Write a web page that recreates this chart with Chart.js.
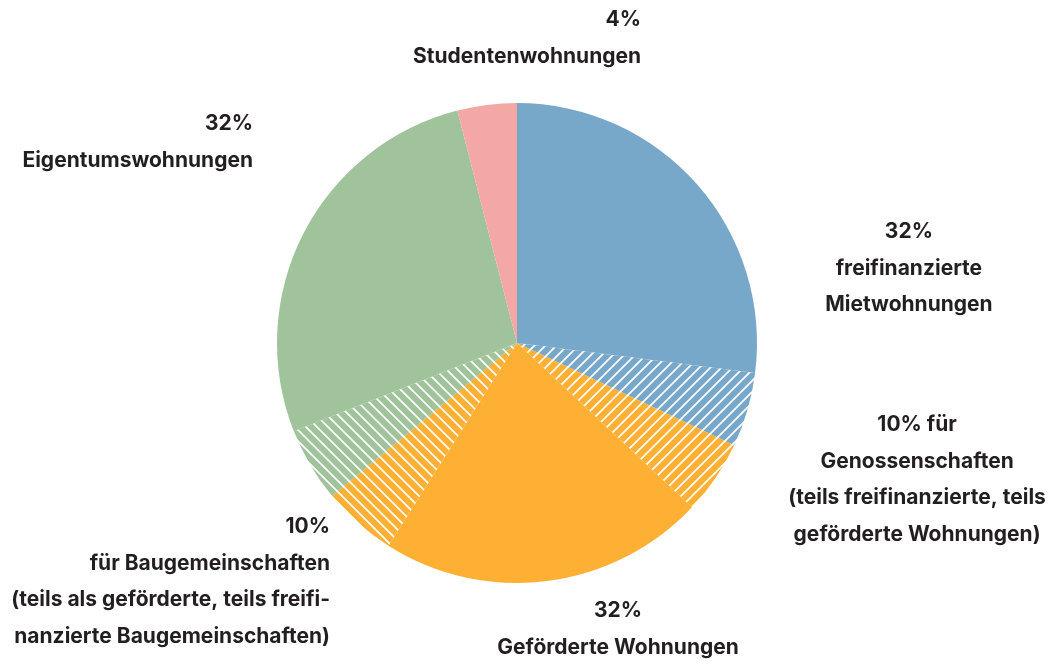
<!DOCTYPE html>
<html>
<head>
<meta charset="utf-8">
<script src="https://cdn.jsdelivr.net/npm/chart.js@4.4.0/dist/chart.umd.min.js"></script>
<style>
  html, body { margin: 0; padding: 0; background: #fff; }
  #wrap { width: 1055px; height: 666px; position: relative; }
</style>
</head>
<body>
<div id="wrap"><canvas id="pieChart"></canvas></div>
<script>
// Segments clockwise from the top
const segments = [
  'freifinanzierte Mietwohnungen',
  'Genossenschaften (freifinanziert)',
  'Genossenschaften (gefördert)',
  'Geförderte Wohnungen',
  'Baugemeinschaften (gefördert)',
  'Baugemeinschaften (freifinanziert)',
  'Eigentumswohnungen',
  'Studentenwohnungen'
];
const shares = [27, 5, 5, 22, 5, 5, 27, 4];
const baseColors = ['blue', 'blue', 'orange', 'orange', 'orange', 'green', 'green', 'pink'];
const hatched = ['', '/', '/', '', '\\', '\\', '', ''];

// Label texts (lines) around the pie
const labelLines = [
  ['4%', 'Studentenwohnungen'],
  ['32%', 'Eigentumswohnungen'],
  ['32%', 'freifinanzierte', 'Mietwohnungen'],
  ['10% für', 'Genossenschaften', '(teils freifinanzierte, teils', 'geförderte Wohnungen)'],
  ['10%', 'für Baugemeinschaften', '(teils als geförderte, teils freifi-', 'nanzierte Baugemeinschaften)'],
  ['32%', 'Geförderte Wohnungen']
];

const palette = {
  blue: '#78a8c9',
  orange: '#feb034',
  green: '#a0c39c',
  pink: '#f4a8a5'
};

// label anchor relative to pie center, in units of radius
const labelPos = [
  { dx: 0.517, dy: -1.346, align: 'right' },
  { dx: -1.1, dy: -0.9125, align: 'right' },
  { dx: 1.633, dy: -0.4625, align: 'center' },
  { dx: 1.667, dy: 0.342, align: 'center' },
  { dx: -0.779, dy: 0.767, align: 'right' },
  { dx: 0.421, dy: 1.117, align: 'center' }
];

function makeHatch(color, dir) {
  const s = 11;
  const c = document.createElement('canvas');
  c.width = s; c.height = s;
  const ctx = c.getContext('2d');
  ctx.fillStyle = color;
  ctx.fillRect(0, 0, s, s);
  ctx.strokeStyle = '#ffffff';
  ctx.lineWidth = 1.7;
  ctx.beginPath();
  if (dir === '/') {
    ctx.moveTo(-1, s + 1); ctx.lineTo(s + 1, -1);
    ctx.moveTo(-1, 1); ctx.lineTo(1, -1);
    ctx.moveTo(s - 1, s + 1); ctx.lineTo(s + 1, s - 1);
  } else {
    ctx.moveTo(-1, -1); ctx.lineTo(s + 1, s + 1);
    ctx.moveTo(s - 1, -1); ctx.lineTo(s + 1, 1);
    ctx.moveTo(-1, s - 1); ctx.lineTo(1, s + 1);
  }
  ctx.stroke();
  return c.getContext('2d').createPattern(c, 'repeat');
}

const fills = baseColors.map((b, i) => hatched[i] ? makeHatch(palette[b], hatched[i]) : palette[b]);

const FONT = '700 21px Inter, "Noto Sans", sans-serif';
const LINE_H = 36.5;

const outsideLabels = {
  id: 'outsideLabels',
  afterDraw(chart) {
    const arc = chart.getDatasetMeta(0).data[0];
    const cx = arc.x, cy = arc.y, r = arc.outerRadius;
    const ctx = chart.ctx;
    ctx.save();
    ctx.font = FONT;
    ctx.fillStyle = '#231f20';
    ctx.textBaseline = 'middle';
    labelLines.forEach((lines, i) => {
      const p = labelPos[i];
      ctx.textAlign = p.align;
      const x = cx + p.dx * r;
      const y0 = cy + p.dy * r;
      lines.forEach((t, j) => ctx.fillText(t, x, y0 + j * LINE_H));
    });
    ctx.restore();
  }
};

new Chart(document.getElementById('pieChart'), {
  type: 'pie',
  data: {
    labels: segments,
    datasets: [{
      data: shares,
      backgroundColor: fills,
      borderWidth: 0
    }]
  },
  options: {
    responsive: true,
    maintainAspectRatio: false,
    animation: false,
    events: [],
    layout: { padding: { top: 103, bottom: 83, left: 0, right: 21 } },
    plugins: {
      legend: { display: false },
      tooltip: { enabled: false }
    }
  },
  plugins: [outsideLabels]
});
</script>
</body>
</html>
